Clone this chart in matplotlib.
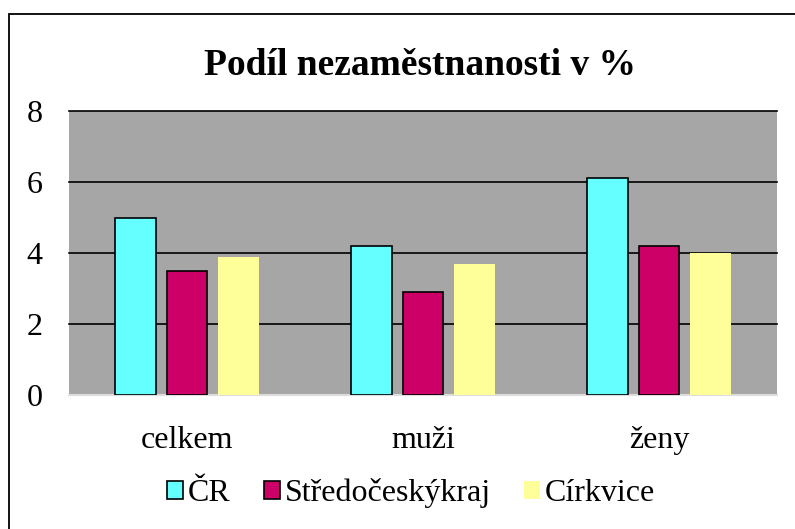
import matplotlib
matplotlib.use("Agg")
import matplotlib.pyplot as plt
from matplotlib.patches import Patch, Rectangle
import numpy as np

categories = ["celkem", "muži", "ženy"]
series_names = ["ČR", "Středočeskýkraj", "Církvice"]
cr = [5.0, 4.2, 6.1]
stredocesky = [3.5, 2.9, 4.2]
cirkvice = [3.9, 3.7, 4.0]
yticks = [0, 2, 4, 6, 8]

colors = ["#66FFFF", "#CC0066", "#FFFF99"]
edges = ["black", "black", "none"]

plt.rcParams['font.family'] = ['Liberation Serif', 'DejaVu Serif']

fig = plt.figure(figsize=(7.95, 5.29), dpi=100)
fig.patch.set_facecolor("white")
fig.patches.append(Rectangle((8.5/795, -0.1), 1.2, 1 - 13.5/529 + 0.1,
                             transform=fig.transFigure, fill=False,
                             edgecolor="black", linewidth=1.3, zorder=0))

ax = fig.add_axes([69/795, 1 - 395/529, 708/795, 284/529])
ax.set_facecolor("#A6A6A6")

x = np.arange(len(categories))
pitch = 0.22
width = 0.1735
for i, (vals, c, e) in enumerate(zip([cr, stredocesky, cirkvice], colors, edges)):
    ax.bar(x + (i - 1) * pitch, vals, width=width, color=c,
           edgecolor=e, linewidth=1.2 if e != "none" else 0, zorder=3)

ax.set_xlim(-0.5, 2.5)
ax.set_ylim(0, 8)
ax.set_yticks(yticks)
ax.set_xticks(x)
ax.set_xticklabels(categories)
for s in ["top", "left", "right"]:
    ax.spines[s].set_visible(False)
ax.spines["bottom"].set_color("#DDDDDD")
ax.spines["bottom"].set_linewidth(1.5)
ax.tick_params(axis="y", length=0, pad=19, labelsize=23)
ax.tick_params(axis="x", length=0, pad=22, labelsize=23)
for v in yticks[1:]:
    ax.axhline(v, color="black", linewidth=1.2, zorder=1, clip_on=False)

fig.text(0.528, 1 - 75/529, "Podíl nezaměstnanosti v %", ha="center",
         va="baseline", fontsize=27, fontweight="bold")

handles = [Patch(facecolor=c, edgecolor=e, linewidth=1.2 if e != "none" else 0)
           for c, e in zip(colors, edges)]
fig.legend(handles, series_names, loc="center", bbox_to_anchor=(0.517, 1 - 493/529),
           ncol=3, frameon=False, fontsize=23, handlelength=0.5, handleheight=0.5,
           handletextpad=0.15, columnspacing=1.05, borderaxespad=0, borderpad=0)

fig.savefig("out.png", dpi=100)
